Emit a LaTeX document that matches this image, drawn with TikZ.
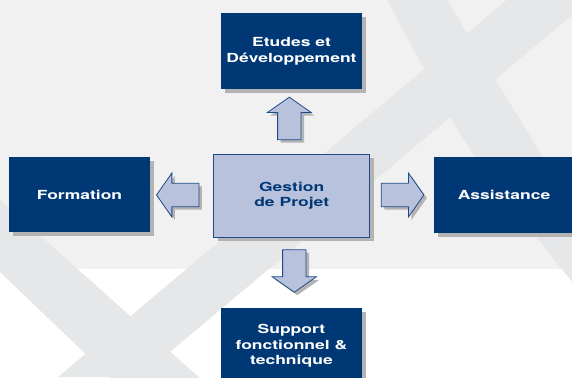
\documentclass[tikz,border=0pt]{standalone}
\usepackage{fontspec}
\newfontfamily\heros[FakeStretch=1.4]{TeX Gyre Heros}
\usepackage{tikz}
\usetikzlibrary{shapes.arrows,shadows}
\definecolor{boxblue}{HTML}{003876}
\definecolor{lightfill}{HTML}{B9C2DC}
\definecolor{edgeblue}{HTML}{1E4A8A}
\definecolor{shadowgray}{HTML}{B3B3B3}
\definecolor{bglight}{HTML}{F1F1F1}
\definecolor{bandgray}{HTML}{E6E7E8}

\begin{document}
\begin{tikzpicture}[x=1pt,y=-1pt]
\tikzstyle{every node}+=[inner sep=1pt]
\tikzstyle{bluebox}=[rectangle, fill=boxblue, text=white, align=center,
  minimum width=141pt, minimum height=75.7pt,
  font=\heros\bfseries\fontsize{12.5}{15.5}\selectfont,
  drop shadow={shadow xshift=4pt, shadow yshift=-4pt, fill=shadowgray, opacity=1}]
\tikzstyle{centrebox}=[bluebox, fill=lightfill, draw=edgeblue, line width=1.2pt,
  text=boxblue, minimum width=156pt, minimum height=83pt]
\tikzstyle{blockarrow}=[single arrow, draw=edgeblue, fill=lightfill, line width=0.8pt,
  inner sep=11.3pt, minimum height=42.5pt, single arrow head extend=10.3pt,
  single arrow tip angle=110, anchor=tip,
  drop shadow={shadow xshift=3pt, shadow yshift=-3pt, fill=shadowgray, opacity=1}]
\useasboundingbox (0,0) rectangle (572,377);
\clip (0,0) rectangle (572,377);
% background
\fill [bglight] (0,0) rectangle (572,269);
\fill [bandgray] (506.7,0) -- (590,0) -- (140,377) -- (58,377) -- cycle;
\fill [bandgray] (387,0) -- (447,0) -- (630,300) -- (580,292) -- (533,233) -- (475,157) -- (450,117) -- cycle;
\fill [bandgray] (0,200) -- (210,387) -- (120,387) -- (0,272) -- cycle;
% boxes
\node [centrebox] (gestion) at (291.7,195.8) {Gestion\\de Projet};
\node [bluebox] (etudes) at (291.5,51.2) {Etudes et\\Développement};
\node [bluebox] (formation) at (79.5,194.5) {Formation};
\node [bluebox] (assistance) at (504,194.8) {Assistance};
\node [bluebox] (support) at (291.4,346.2) {Support\\fonctionnel \&\\technique};
% arrows
\node [blockarrow, shape border rotate=90] (up) at (289.3,96.7) {};
\node [blockarrow, shape border rotate=180] (left) at (156,195) {};
\node [blockarrow] (right) at (424.3,195) {};
\node [blockarrow, shape border rotate=270] (down) at (294.3,292.7) {};
\end{tikzpicture}
\end{document}
